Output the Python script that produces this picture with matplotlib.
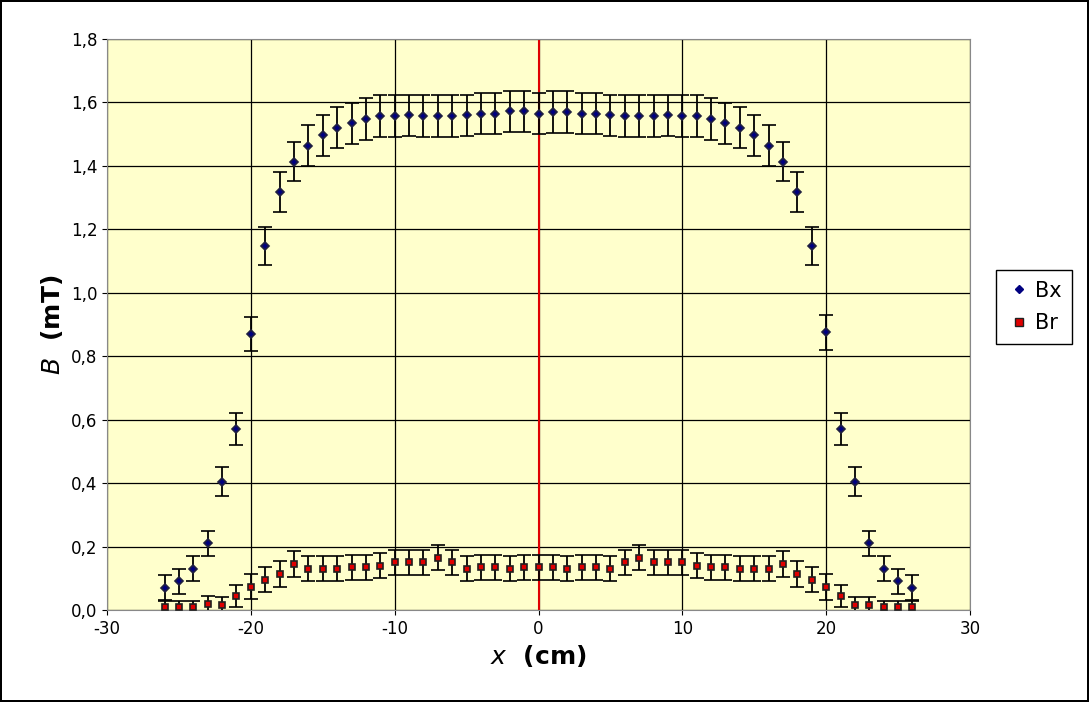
import matplotlib
matplotlib.use('Agg')
import matplotlib.pyplot as plt
from matplotlib.ticker import FuncFormatter
from matplotlib.lines import Line2D

plt.rcParams['axes.unicode_minus'] = False

# measurement positions (cm)
x = list(range(-26, 27))

# Bx values (mT), x = -26 .. 26
bx = [0.07, 0.09, 0.13, 0.21, 0.405, 0.57, 0.87, 1.146, 1.318, 1.413, 1.464, 1.496, 1.521, 1.534,
      1.548, 1.557, 1.557, 1.56, 1.557, 1.557, 1.557, 1.56, 1.565, 1.565, 1.572, 1.572, 1.565,
      1.57, 1.57, 1.565, 1.565, 1.56, 1.557, 1.557, 1.557, 1.56, 1.557, 1.557, 1.548, 1.534,
      1.521, 1.496, 1.464, 1.413, 1.318, 1.146, 0.875, 0.57, 0.405, 0.21, 0.13, 0.09, 0.07]
bx_err = [0.04, 0.04, 0.04, 0.04, 0.045, 0.05, 0.055, 0.06, 0.062, 0.062, 0.065, 0.065, 0.065, 0.065,
          0.065, 0.065, 0.065, 0.065, 0.065, 0.065, 0.065, 0.065, 0.065, 0.065, 0.065, 0.065, 0.065,
          0.065, 0.065, 0.065, 0.065, 0.065, 0.065, 0.065, 0.065, 0.065, 0.065, 0.065, 0.065, 0.065,
          0.065, 0.065, 0.065, 0.062, 0.062, 0.06, 0.055, 0.05, 0.045, 0.04, 0.04, 0.04, 0.04]

# Br values (mT)
br = [0.008, 0.008, 0.008, 0.019, 0.016, 0.044, 0.074, 0.096, 0.114, 0.145, 0.13, 0.13, 0.13, 0.134,
      0.134, 0.14, 0.15, 0.15, 0.15, 0.165, 0.15, 0.13, 0.134, 0.134, 0.13, 0.134, 0.134,
      0.134, 0.13, 0.134, 0.134, 0.13, 0.15, 0.165, 0.15, 0.15, 0.15, 0.14, 0.134, 0.134,
      0.13, 0.13, 0.13, 0.145, 0.114, 0.096, 0.072, 0.044, 0.016, 0.016, 0.008, 0.008, 0.008]
br_err = [0.02, 0.02, 0.02, 0.025, 0.025, 0.035, 0.04, 0.04, 0.04, 0.04, 0.04, 0.04, 0.04, 0.04,
          0.04, 0.04, 0.04, 0.04, 0.04, 0.04, 0.04, 0.04, 0.04, 0.04, 0.04, 0.04, 0.04,
          0.04, 0.04, 0.04, 0.04, 0.04, 0.04, 0.04, 0.04, 0.04, 0.04, 0.04, 0.04, 0.04,
          0.04, 0.04, 0.04, 0.04, 0.04, 0.04, 0.04, 0.035, 0.025, 0.025, 0.02, 0.02, 0.02]

fig = plt.figure(figsize=(10.89, 7.02), dpi=100)
fig.patch.set_edgecolor('black')
fig.patch.set_linewidth(1.5)
ax = fig.add_axes([107/1089, 1-610/702, 863/1089, 571/702])
ax.set_facecolor('#FFFFCC')

ax.axvline(0, color='#E00000', lw=1.5, zorder=1)

ax.errorbar(x, bx, yerr=bx_err, fmt='D', ms=4, mfc='#000080', mec='#202040', mew=1.2, ecolor='black',
            elinewidth=1.3, capsize=5, capthick=1.3, zorder=3)
ax.errorbar(x, br, yerr=br_err, fmt='s', ms=5, mfc='#E00000', mec='#202020', mew=1.2, ecolor='black',
            elinewidth=1.3, capsize=5, capthick=1.3, zorder=3)

ax.set_xlim(-30, 30)
ax.set_ylim(0, 1.8)
ax.set_xticks(range(-30, 31, 10))
ax.set_yticks([i * 0.2 for i in range(10)])
ax.yaxis.set_major_formatter(FuncFormatter(lambda v, p: f'{v:.1f}'.replace('.', ',')))
ax.grid(True, color='black', lw=0.9)
ax.set_axisbelow(True)
ax.tick_params(labelsize=12, direction='out')
for s in ax.spines.values():
    s.set_color('#888888')

ax.set_xlabel(r'$\bf{\it{x}}$  (cm)', fontsize=18, fontweight='bold')
ax.set_ylabel(r'$\bf{\it{B}}$  (mT)', fontsize=18, fontweight='bold')

handles = [Line2D([], [], ls='none', marker='D', ms=4, mfc='#000080', mec='#000080'),
           Line2D([], [], ls='none', marker='s', ms=6, mfc='#E00000', mec='#202020')]
fig.legend(handles, ['Bx', 'Br'], loc='center', bbox_to_anchor=(1034/1089, 1-307/702), fontsize=15,
           frameon=True, fancybox=False, edgecolor='black', handletextpad=0.2, borderpad=0.5,
           handlelength=1.2, labelspacing=0.6, framealpha=1)

fig.savefig('out.png', dpi=100, edgecolor=fig.get_edgecolor())
